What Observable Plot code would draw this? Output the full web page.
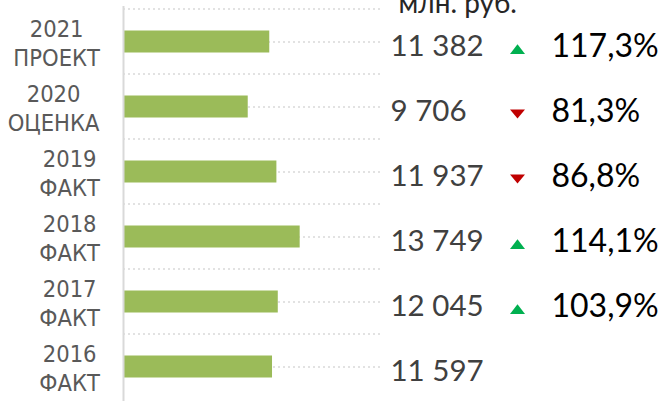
<!DOCTYPE html>
<html>
<head>
<meta charset="utf-8">
<script src="https://cdn.jsdelivr.net/npm/d3@7"></script>
<script src="https://cdn.jsdelivr.net/npm/@observablehq/plot@0.6"></script>
<style>
  html, body { margin: 0; padding: 0; background: #fff; overflow: hidden; }
  #chart svg { display: block; }
</style>
</head>
<body>
<div id="chart"></div>
<script>
// ---- data ----
const years = ["2021", "2020", "2019", "2018", "2017", "2016"];
const statuses = ["ПРОЕКТ", "ОЦЕНКА", "ФАКТ", "ФАКТ", "ФАКТ", "ФАКТ"];
const values = [11382, 9706, 11937, 13749, 12045, 11597];
const growth = [117.3, 81.3, 86.8, 114.1, 103.9, null];
const unitLabel = "млн. руб.";
const xDomain = [0, 20000];

// ---- table ----
const rows = years.map((y, i) => ({
  cat: `${y}\n${statuses[i]}`,
  value: values[i],
  growth: growth[i]
}));
const cats = rows.map(d => d.cat);

const W = 665, H = 401;
const mL = 123, mR = 285, mT = 6, mB = 0;
const band = (H - mT - mB) / cats.length;

const loc = d3.formatLocale({decimal: ",", thousands: "\u00a0", grouping: [3], currency: ["", ""]});
const fmtVal = loc.format(",d");
const fmtPct = v => loc.format(".1f")(v) + "%";

// flat triangle symbols
const triUp = {draw(ctx, size) { const r = Math.sqrt(size / Math.PI); const h = r * 1.3;
  ctx.moveTo(-r, h / 2); ctx.lineTo(r, h / 2); ctx.lineTo(0, -h / 2); ctx.closePath(); }};
const triDown = {draw(ctx, size) { const r = Math.sqrt(size / Math.PI); const h = r * 1.2;
  ctx.moveTo(-r, -h / 2); ctx.lineTo(r, -h / 2); ctx.lineTo(0, h / 2); ctx.closePath(); }};

const gridStyle = {stroke: "#d9d9d9", strokeOpacity: 1, strokeWidth: 1.5, strokeDasharray: "2,3"};
const withGrowth = rows.filter(d => d.growth != null);

const chart = Plot.plot({
  width: W, height: H,
  marginLeft: mL, marginRight: mR, marginTop: mT, marginBottom: mB,
  style: {background: "#fff", overflow: "visible"},
  x: {domain: xDomain, axis: null},
  y: {domain: cats, padding: 0, axis: null, label: null},
  marks: [
    Plot.gridY({...gridStyle}),
    Plot.ruleY(cats, {y: d => d, dy: -band / 2, ...gridStyle}),
    Plot.barX(rows, {y: "cat", x: "value", fill: "#9BBB59", insetTop: 21.5, insetBottom: 21.5}),
    Plot.ruleX([0], {stroke: "#d9d9d9", strokeWidth: 2}),
    Plot.text(cats, {
      y: d => d, text: d => d, frameAnchor: "left", textAnchor: "middle",
      dx: -60, lineHeight: 1.25, fontSize: 23.5, fill: "#595959",
      fontFamily: "'DejaVu Sans Condensed', Roboto, sans-serif"
    }),
    Plot.text(rows, {
      y: "cat", frameAnchor: "right", text: d => fmtVal(d.value),
      textAnchor: "start", dx: 10, dy: 5, fontSize: 29.5, fill: "#404040",
      fontFamily: "Lato, sans-serif"
    }),
    Plot.dot(withGrowth.filter(d => d.growth >= 100), {
      y: "cat", frameAnchor: "right", dx: 137, dy: 7, r: 7.5, symbol: triUp,
      fill: "#00B050", stroke: "none"
    }),
    Plot.dot(withGrowth.filter(d => d.growth < 100), {
      y: "cat", frameAnchor: "right", dx: 137, dy: 7, r: 7.5, symbol: triDown,
      fill: "#C00000", stroke: "none"
    }),
    Plot.text(withGrowth, {
      y: "cat", frameAnchor: "right", text: d => fmtPct(d.growth),
      textAnchor: "start", dx: 171, dy: 5, fontSize: 32, fill: "#000",
      fontFamily: "Lato, sans-serif"
    }),
    Plot.text([unitLabel], {
      frameAnchor: "top-right", text: d => d, textAnchor: "start",
      lineAnchor: "bottom", dx: 18, dy: 6.5, fontSize: 28, fill: "#262626",
      fontFamily: "Lato, sans-serif"
    })
  ]
});

document.getElementById("chart").appendChild(chart);

// align each two-line label block so its widest line ends near the axis, lines centred
const labelRight = mL - 23;
const svgRect = chart.getBoundingClientRect();
chart.querySelectorAll("text").forEach(t => {
  const r = t.getBoundingClientRect();
  if (r.left - svgRect.left >= mL - 5) return;
  const shift = labelRight - (r.right - svgRect.left);
  const prev = t.getAttribute("transform") || "";
  t.setAttribute("transform", `translate(${shift},0) ` + prev);
});
</script>
</body>
</html>
